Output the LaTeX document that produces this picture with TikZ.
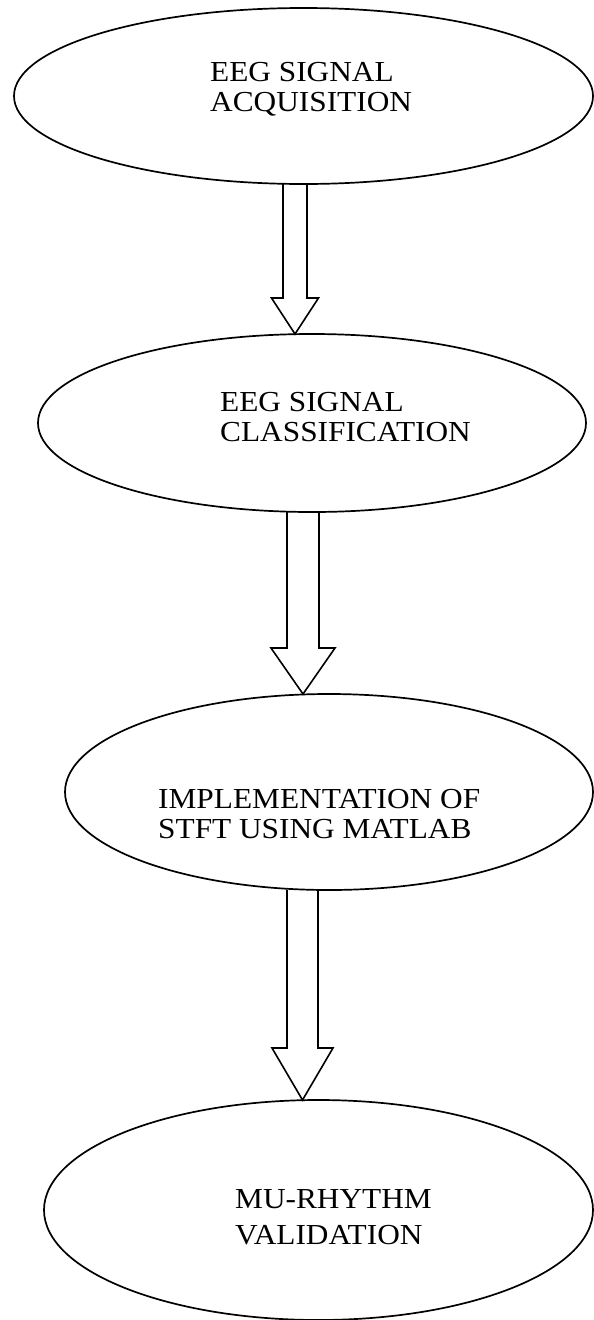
\documentclass[tikz,border=0pt]{standalone}
\usepackage{fontspec}
\setmainfont[FakeStretch=1.08]{Liberation Serif}
\usetikzlibrary{shapes.geometric,calc}
% #1 shaft top, #2 tip, #3 half shaft width, #4 half head width, #5 head length
\newcommand\blockarrow[5]{%
  \draw[blockarrowline] ($(#1)+(-#3,0)$) -- ($(#2)+(-#3,-#5)$) -- ($(#2)+(-#4,-#5)$) -- (#2)
     -- ($(#2)+(#4,-#5)$) -- ($(#2)+(#3,-#5)$) -- ($(#1)+(#3,0)$);}
\begin{document}
\begin{tikzpicture}[x=1pt,y=-1pt,
  stage/.style={ellipse, draw, line width=1.7pt, inner sep=0pt, outer sep=0pt},
  lbl/.style={anchor=base west, inner sep=0pt, font=\fontsize{29}{29}\selectfont},
  blockarrowline/.style={draw, line width=1.6pt, line join=miter}]
\useasboundingbox (0,0) rectangle (594,1320);
\fill[white] (0,0) rectangle (594,1320);
% stages
\node[stage, minimum width=579pt, minimum height=176pt] (e1) at (303.5,96) {};
\node[stage, minimum width=548pt, minimum height=178pt] (e2) at (312,423) {};
\node[stage, minimum width=528pt, minimum height=196pt] (e3) at (329,792) {};
\node[stage, minimum width=549pt, minimum height=220pt] (e4) at (318.5,1210) {};
% labels
\node[lbl] (t1a) at (210,81) {EEG SIGNAL};
\node[lbl] (t1b) at (210,111) {ACQUISITION};
\node[lbl] (t2a) at (220,411) {EEG SIGNAL};
\node[lbl] (t2b) at (220,441) {CLASSIFICATION};
\node[lbl] (t3a) at (158,808) {IMPLEMENTATION OF};
\node[lbl] (t3b) at (158,838) {STFT USING MATLAB};
\node[lbl] (t4a) at (235,1208) {MU-RHYTHM};
\node[lbl] (t4b) at (235,1244) {VALIDATION};
% block arrows
\coordinate (a1s) at ($(e1.south)+(-8.5,0)$);
\coordinate (a1t) at (a1s |- e2.north);
\coordinate (a2s) at ($(e2.south)+(-9,0)$);
\coordinate (a2t) at (a2s |- e3.north);
\coordinate (a3s) at ($(e3.south)+(-26.5,0)$);
\coordinate (a3t) at (a3s |- e4.north);
\blockarrow{a1s}{a1t}{12}{23.5}{36}
\blockarrow{a2s}{a2t}{16}{32}{46}
\blockarrow{a3s}{a3t}{15.5}{30.5}{52}
\end{tikzpicture}
\end{document}
